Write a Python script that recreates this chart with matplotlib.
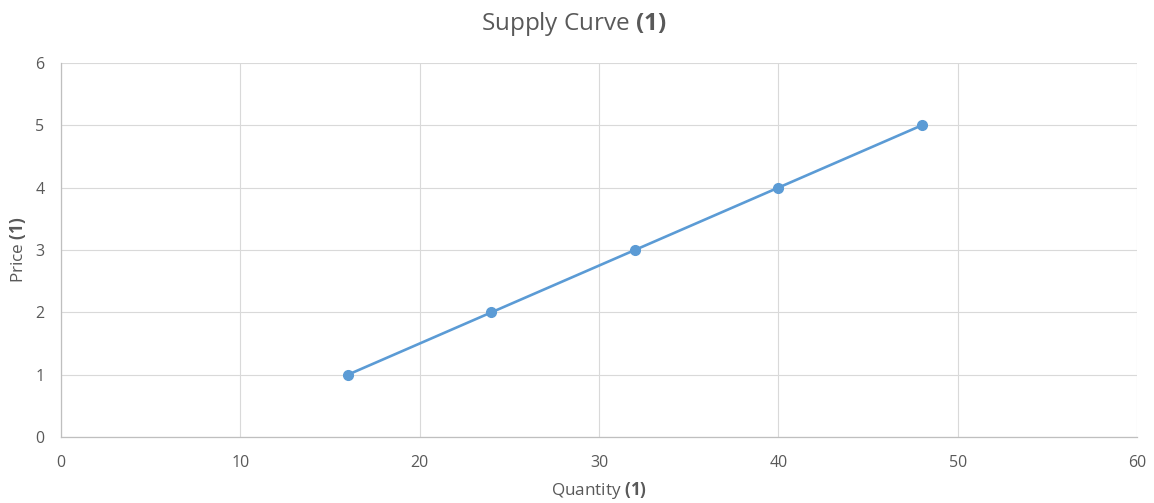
import matplotlib.pyplot as plt

# --- Data ---
quantity = [16, 24, 32, 40, 48]
price = [1, 2, 3, 4, 5]
x_ticks = [0, 10, 20, 30, 40, 50, 60]
y_ticks = [0, 1, 2, 3, 4, 5, 6]

plt.rcParams['font.family'] = ['Open Sans', 'DejaVu Sans']
plt.rcParams['mathtext.fontset'] = 'custom'
plt.rcParams['mathtext.rm'] = 'Open Sans'
plt.rcParams['mathtext.bf'] = 'Open Sans:bold'

text_color = '#595959'
grid_color = '#D9D9D9'
line_color = '#5B9BD5'

fig = plt.figure(figsize=(11.54, 5.03), dpi=100)
ax = fig.add_axes([0.0529, 0.1312, 0.9324, 0.7436])

ax.plot(quantity, price, color=line_color, linewidth=1.9,
        marker='o', markersize=7, zorder=3)

ax.set_xlim(0, 60)
ax.set_ylim(0, 6)
ax.set_xticks(x_ticks)
ax.set_yticks(y_ticks)
ax.grid(True, color=grid_color, linewidth=0.8)
ax.set_axisbelow(True)

for side in ['top', 'right']:
    ax.spines[side].set_visible(False)
for side in ['left', 'bottom']:
    ax.spines[side].set_color('#BFBFBF')
    ax.spines[side].set_linewidth(0.9)

ax.tick_params(length=0, labelsize=11.5, colors=text_color)
ax.tick_params(axis='x', pad=13)
ax.tick_params(axis='y', pad=12)

# title and axis labels with bold "(1)"
fig.text(0.4974, 0.952, r'Supply Curve $\mathbf{(1)}$', ha='center', va='center',
         fontsize=17.5, color=text_color)
fig.text(0.519, 0.024, r'Quantity $\mathbf{(1)}$', ha='center', va='center',
         fontsize=12.3, color=text_color)
fig.text(0.0156, 0.503, r'Price $\mathbf{(1)}$', ha='center', va='center',
         fontsize=12.3, color=text_color, rotation=90)

plt.savefig('out.png', dpi=100)
